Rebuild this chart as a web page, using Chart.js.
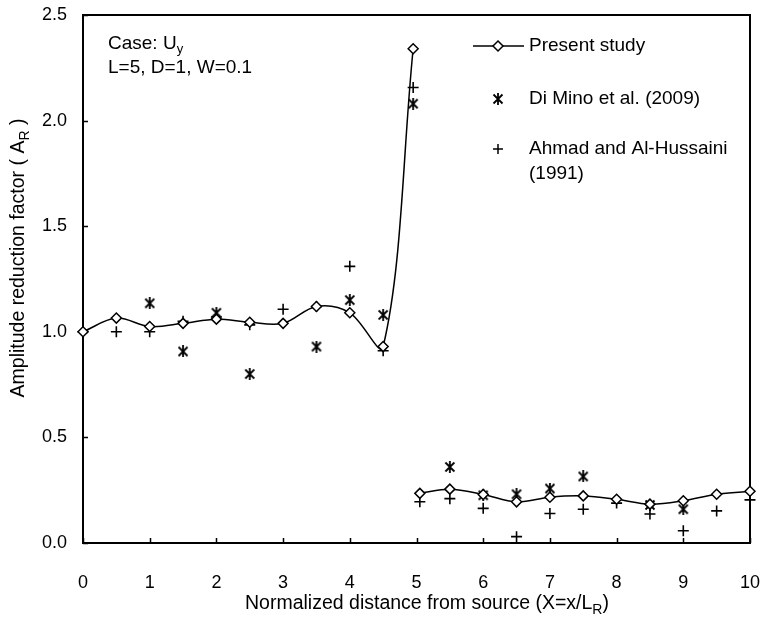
<!DOCTYPE html>
<html>
<head>
<meta charset="utf-8">
<script src="https://cdn.jsdelivr.net/npm/chart.js@4.4.1/dist/chart.umd.min.js"></script>
<style>
    html, body { margin: 0; padding: 0; background: #fff; }
</style>
</head>
<body>
<canvas id="ampChart" width="763" height="619"></canvas>
<script>
    "use strict";

    // Present study (line + diamonds). null = break at the trench
    var presentX = [0, 0.5, 1, 1.5, 2, 2.5, 3, 3.5, 4, 4.5, 4.95, 5, 5.05, 5.5, 6, 6.5, 7, 7.5, 8, 8.5, 9, 9.5, 10];
    var presentY = [1.0, 1.065, 1.025, 1.04, 1.06, 1.045, 1.04, 1.12, 1.09, 0.93, 2.34, null, 0.235, 0.255, 0.23, 0.195, 0.217, 0.223, 0.207, 0.184, 0.2, 0.231, 0.245];

    // Di Mino et al. (2009)
    var diminoX = [1, 1.5, 2, 2.5, 3.5, 4, 4.5, 4.95, 5.5, 6, 6.5, 7, 7.5, 8.5, 9];
    var diminoY = [1.135, 0.907, 1.09, 0.80, 0.93, 1.15, 1.08, 2.08, 0.36, 0.226, 0.231, 0.258, 0.315, 0.18, 0.16];

    // Ahmad and Al-Hussaini (1991)
    var ahmadX = [0, 0.5, 1, 1.5, 2, 2.5, 3, 3.5, 4, 4.5, 4.95, 5.05, 5.5, 6, 6.5, 7, 7.5, 8, 8.5, 9, 9.5, 10];
    var ahmadY = [1.0, 1.0, 1.0, 1.05, 1.07, 1.033, 1.107, 1.12, 1.31, 0.91, 2.157, 0.195, 0.21, 0.164, 0.03, 0.14, 0.16, 0.189, 0.137, 0.058, 0.152, 0.204];

    var xTicks = [0, 1, 2, 3, 4, 5, 6, 7, 8, 9, 10];
    var yTicks = [0, 0.5, 1.0, 1.5, 2.0, 2.5];

    var FONT = "'Liberation Sans', Arial, sans-serif";
    var TEXT_SIZE = 19;
    var TITLE_SIZE = 19.5;

    function toPoints(xs, ys) {
        return xs.map(function(x, i) { return { x: x, y: ys[i] }; });
    }

    // asterisk-like marker: X with a vertical stroke
    function makeStar() {
        var c = document.createElement("canvas");
        c.width = 12;
        c.height = 12;
        var g = c.getContext("2d");
        g.strokeStyle = "#000";
        g.lineWidth = 1.8;
        g.beginPath();
        g.moveTo(1.5, 1.5); g.lineTo(10.5, 10.5);
        g.moveTo(10.5, 1.5); g.lineTo(1.5, 10.5);
        g.moveTo(6, 0); g.lineTo(6, 12);
        g.stroke();
        return c;
    }
    var starMark = makeStar();

    function drawRich(ctx, parts, x, y, size) {
        var cx = x;
        parts.forEach(function(p) {
            if (p.sub) {
                ctx.font = Math.round(size * 0.7) + "px " + FONT;
                ctx.fillText(p.t, cx, y + size * 0.3);
            } else {
                ctx.font = size + "px " + FONT;
                ctx.fillText(p.t, cx, y);
            }
            cx += ctx.measureText(p.t).width;
        });
        return cx - x;
    }

    function richWidth(ctx, parts, size) {
        var w = 0;
        parts.forEach(function(p) {
            ctx.font = (p.sub ? Math.round(size * 0.7) : size) + "px " + FONT;
            w += ctx.measureText(p.t).width;
        });
        return w;
    }

    var decorPlugin = {
        id: "decor",
        beforeDatasetsDraw: function(chart) {
            var ctx = chart.ctx, a = chart.chartArea;
            var xs = chart.scales.x, ys = chart.scales.y;
            ctx.save();
            ctx.strokeStyle = "#000";
            ctx.lineWidth = 2;
            ctx.strokeRect(a.left, a.top, a.right - a.left, a.bottom - a.top);
            ctx.lineWidth = 1.5;
            ctx.beginPath();
            xTicks.forEach(function(v) {
                var px = Math.round(xs.getPixelForValue(v)) + 0.5;
                ctx.moveTo(px, a.bottom);
                ctx.lineTo(px, a.bottom - 5);
            });
            yTicks.forEach(function(v) {
                var py = Math.round(ys.getPixelForValue(v)) + 0.5;
                ctx.moveTo(a.left, py);
                ctx.lineTo(a.left + 5, py);
            });
            ctx.stroke();
            ctx.restore();
        },
        afterDraw: function(chart) {
            var ctx = chart.ctx;
            var size = TEXT_SIZE;
            ctx.save();
            ctx.fillStyle = "#000";
            ctx.textBaseline = "middle";
            ctx.textAlign = "left";

            // x title
            var xt = [{ t: "Normalized distance from source (X=x/L" }, { t: "R", sub: true }, { t: ")" }];
            var w = richWidth(ctx, xt, TITLE_SIZE);
            drawRich(ctx, xt, 427 - w / 2, 604, TITLE_SIZE);

            // y title
            var yt = [{ t: "Amplitude reduction factor ( A" }, { t: "R", sub: true }, { t: " )" }];
            w = richWidth(ctx, yt, TITLE_SIZE);
            ctx.save();
            ctx.translate(19, 258);
            ctx.rotate(-Math.PI / 2);
            drawRich(ctx, yt, -w / 2, 0, TITLE_SIZE);
            ctx.restore();

            // case note
            drawRich(ctx, [{ t: "Case: U" }, { t: "y", sub: true }], 108, 44, size);
            drawRich(ctx, [{ t: "L=5, D=1, W=0.1" }], 108, 68, size);

            // legend
            var lx = 498, tx = 529;
            ctx.strokeStyle = "#000";
            ctx.lineWidth = 1.5;
            ctx.beginPath();
            ctx.moveTo(473, 46);
            ctx.lineTo(524, 46);
            ctx.stroke();
            ctx.fillStyle = "#fff";
            ctx.beginPath();
            ctx.moveTo(lx, 41); ctx.lineTo(lx + 5, 46); ctx.lineTo(lx, 51); ctx.lineTo(lx - 5, 46);
            ctx.closePath();
            ctx.fill();
            ctx.stroke();
            ctx.fillStyle = "#000";
            drawRich(ctx, [{ t: "Present study" }], tx, 46, size);

            ctx.drawImage(starMark, lx - 6, 99 - 6);
            drawRich(ctx, [{ t: "Di Mino et al. (2009)" }], tx, 99, size);

            ctx.beginPath();
            ctx.moveTo(lx - 5, 149); ctx.lineTo(lx + 5, 149);
            ctx.moveTo(lx, 144); ctx.lineTo(lx, 154);
            ctx.stroke();
            drawRich(ctx, [{ t: "Ahmad and Al-Hussaini" }], tx, 149, size);
            drawRich(ctx, [{ t: "(1991)" }], tx, 174, size);
            ctx.restore();
        }
    };

    var ampChart = new Chart(document.getElementById("ampChart"), {
        type: "scatter",
        data: {
            datasets: [
                {
                    label: "Present study",
                    type: "line",
                    data: toPoints(presentX, presentY),
                    borderColor: "#000",
                    borderWidth: 1.5,
                    tension: 0.35,
                    spanGaps: false,
                    pointStyle: "rectRot",
                    pointRadius: 5,
                    pointBackgroundColor: "#fff",
                    pointBorderColor: "#000",
                    pointBorderWidth: 1.5,
                    clip: false
                },
                {
                    label: "Di Mino et al. (2009)",
                    data: toPoints(diminoX, diminoY),
                    pointStyle: starMark,
                    pointRadius: 6,
                    clip: false
                },
                {
                    label: "Ahmad and Al-Hussaini (1991)",
                    data: toPoints(ahmadX, ahmadY),
                    pointStyle: "cross",
                    pointRadius: 5.5,
                    pointBorderColor: "#000",
                    pointBorderWidth: 1.6,
                    clip: false
                }
            ]
        },
        options: {
            responsive: false,
            animation: false,
            layout: {
                autoPadding: false,
                padding: { left: 0, right: 13, top: 15, bottom: 0 }
            },
            plugins: {
                legend: { display: false },
                tooltip: { enabled: false }
            },
            scales: {
                x: {
                    type: "linear",
                    min: 0,
                    max: 10,
                    afterFit: function(scale) {
                        scale.height = 76;
                        scale.paddingLeft = 0;
                        scale.paddingRight = 0;
                    },
                    afterBuildTicks: function(scale) {
                        scale.ticks = xTicks.map(function(v) { return { value: v }; });
                    },
                    ticks: {
                        color: "#000",
                        padding: 29,
                        maxRotation: 0,
                        font: { family: FONT, size: 18 },
                        callback: function(v) { return String(v); }
                    },
                    grid: { display: false, drawTicks: false },
                    border: { display: false }
                },
                y: {
                    min: 0,
                    max: 2.5,
                    afterFit: function(scale) {
                        scale.width = 83;
                        scale.paddingTop = 0;
                        scale.paddingBottom = 0;
                    },
                    afterBuildTicks: function(scale) {
                        scale.ticks = yTicks.map(function(v) { return { value: v }; });
                    },
                    ticks: {
                        color: "#000",
                        padding: 16,
                        font: { family: FONT, size: 18 },
                        callback: function(v) { return Number(v).toFixed(1); }
                    },
                    grid: { display: false, drawTicks: false },
                    border: { display: false }
                }
            }
        },
        plugins: [decorPlugin]
    });
</script>
</body>
</html>
